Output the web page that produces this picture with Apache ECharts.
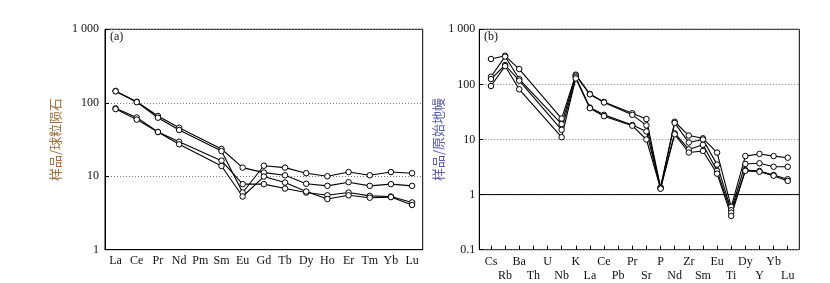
<!DOCTYPE html>
<html><head><meta charset="utf-8">
<script src="https://cdn.jsdelivr.net/npm/echarts@6/dist/echarts.min.js"></script>
<style>html,body{margin:0;padding:0;background:#fff}#c{width:830px;height:283px}</style>
</head><body><div id="c"></div>
<script>
// ---- data ----
const reeCats = ['La','Ce','Pr','Nd','Pm','Sm','Eu','Gd','Tb','Dy','Ho','Er','Tm','Yb','Lu'];
const ree1 = [145,103,66,45.7,null,23.5,13.1,11.2,10.3,7.9,7.4,8.3,7.4,7.8,7.4];
const ree2 = [143,102,62.6,42.6,null,22,6.0,13.9,13.1,11.0,10.0,11.4,10.3,11.4,11.0];
const ree3 = [84,63,40,29.5,null,16.3,7.8,7.8,6.8,6.0,5.5,6.0,5.4,5.3,4.4];
const ree4 = [82,59,40,27.2,null,13.8,5.3,9.9,8.2,6.2,4.9,5.5,5.1,5.2,4.06];

const spCats = ['Cs','Rb','Ba','Th','U','Nb','K','La','Ce','Pb','Pr','Sr','P','Nd','Zr','Sm','Eu','Ti','Dy','Y','Yb','Lu'];
const sp1 = [289,330,190,null,null,24,150,67,48,null,30,23.5,1.35,21,11.8,10.5,5.8,0.6,5.0,5.46,5.0,4.67];
const sp2 = [138,320,125,null,null,19,145,66,47,null,28,18,1.32,20,8.8,10,3.5,0.52,3.6,3.7,3.2,3.2];
const sp3 = [125,225,117,null,null,15,135,38,28,null,18.3,14,1.3,13,6.6,8,2.7,0.47,2.8,2.68,2.27,1.9];
const sp4 = [93.5,215,81.5,null,null,11,128,37,26.5,null,17.8,10,1.28,12.4,5.8,6.2,2.4,0.41,2.7,2.6,2.2,1.77];

const leftTitle = '样品/球粒陨石';
const rightTitle = '样品/原始地幔';

// ---- chart ----
const serif = 'Liberation Serif, Times New Roman, serif';
const fmt = v => { const n = Number(Number(v).toPrecision(3)); return n === 1000 ? '1 000' : String(n); };
const chart = echarts.init(document.getElementById('c'));

function lineSeries(data, xi, yi) {
  return {
    type: 'line', data: data, xAxisIndex: xi, yAxisIndex: yi,
    connectNulls: true, symbol: 'circle', symbolSize: 5.5, showSymbol: true,
    lineStyle: { color: '#000', width: 1.1 },
    itemStyle: { color: '#fff', borderColor: '#000', borderWidth: 1 },
    animation: false, silent: true
  };
}

const yLog = (min, gridIndex, nameTxt, nameColor, gap, lblMargin) => ({
  type: 'log', logBase: 10, min: min, max: 1000, gridIndex: gridIndex,
  name: nameTxt, nameLocation: 'middle', nameGap: gap, nameRotate: 90,
  nameTextStyle: { color: nameColor, fontSize: 13, fontFamily: 'Noto Sans CJK SC' },
  axisLine: { show: true, lineStyle: { color: '#000', width: 1 } },
  axisTick: { show: true, inside: true, length: 4, lineStyle: { color: '#000' } },
  minorTick: { show: false },
  axisLabel: { formatter: fmt, color: '#111', fontSize: 12, fontFamily: serif, margin: lblMargin },
  splitLine: { show: true, lineStyle: { color: '#777', type: [1, 2], width: 1 } }
});

const option = {
  backgroundColor: '#fff',
  animation: false,
  grid: [
    { left: 105, right: 407.3, top: 29.3, bottom: 33.3, show: true, borderColor: '#000', borderWidth: 1 },
    { left: 479.3, right: 30.7, top: 29.3, bottom: 33.3, show: true, borderColor: '#000', borderWidth: 1 },
    { left: 483.9, right: 35.2, top: 29.3, bottom: 33.3, show: false }
  ],
  xAxis: [
    { type: 'category', data: reeCats, gridIndex: 0, boundaryGap: true,
      axisLine: { lineStyle: { color: '#000' } },
      axisTick: { inside: true, alignWithLabel: true, length: 4, lineStyle: { color: '#000' } },
      axisLabel: { interval: 0, color: '#111', fontSize: 12, fontFamily: serif, margin: 5 } },
    { type: 'value', gridIndex: 1, min: 0, max: 1, show: false },
    { type: 'category', data: spCats, gridIndex: 2, boundaryGap: true,
      axisLine: { show: false },
      axisTick: { show: true, inside: true, alignWithLabel: true, length: 4, lineStyle: { color: '#000' } },
      axisLabel: { interval: 0, color: '#111', fontSize: 12, fontFamily: serif, margin: 5, lineHeight: 14,
        formatter: (v, i) => (i % 2 === 1 ? '\n' + v : v) } }
  ],
  yAxis: [
    yLog(1, 0, leftTitle, '#a0703c', 43, 6),
    yLog(0.1, 1, rightTitle, '#5b5ea6', 28, 4),
    { type: 'log', logBase: 10, min: 0.1, max: 1000, gridIndex: 2, show: false }
  ],
  series: [
    lineSeries(ree1, 0, 0), lineSeries(ree2, 0, 0), lineSeries(ree3, 0, 0), lineSeries(ree4, 0, 0),
    { type: 'line', xAxisIndex: 1, yAxisIndex: 1, data: [[0, 1], [1, 1]], symbol: 'none',
      lineStyle: { color: '#000', width: 1 }, silent: true, animation: false },
    lineSeries(sp1, 2, 2), lineSeries(sp2, 2, 2), lineSeries(sp3, 2, 2), lineSeries(sp4, 2, 2)
  ],
  graphic: [
    { type: 'text', left: 110, top: 31, style: { text: '(a)', font: '12px ' + serif, fill: '#111' } },
    { type: 'text', left: 484, top: 31, style: { text: '(b)', font: '12px ' + serif, fill: '#111' } }
  ]
};
chart.setOption(option);
</script></body></html>
